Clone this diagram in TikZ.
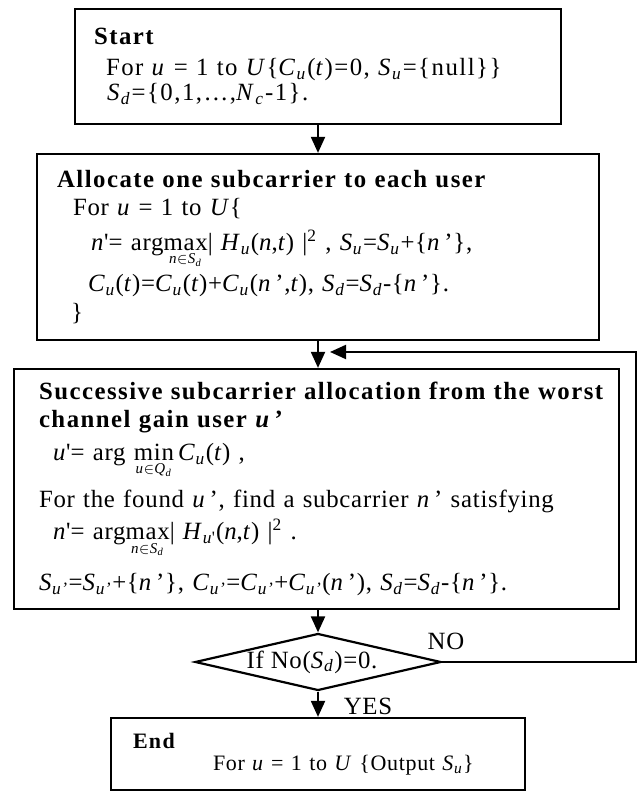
\documentclass[tikz,border=0pt]{standalone}
\usepackage{fontspec}
\setmainfont{Liberation Serif}[LetterSpace=3]
\newfontfamily\titlefont{Liberation Serif}[LetterSpace=6]
\usetikzlibrary{shapes.geometric,arrows.meta}

\newcommand{\boxhead}[1]{{\titlefont\bfseries #1}}
\newcommand{\uv}[1]{\textit{#1}}
\newcommand{\usub}[2]{\textit{#1}\textsubscript{\textit{#2}}}
\newcommand{\subfont}{\fontsize{7.5}{8}\selectfont}
\newcommand{\limop}[2]{\smash{$\mathop{\hbox{#1}}\limits_{\hbox{\subfont #2}}$}}

\tikzset{
  procbox/.style={draw,line width=1.1pt,align=left,inner ysep=0pt,
    font=\fontsize{12.4}{14}\selectfont},
  testbox/.style={draw,diamond,line width=1.1pt,aspect=4.3,inner sep=0pt,
    minimum width=123pt,minimum height=28.5pt,font=\fontsize{12.4}{14}\selectfont},
  flow/.style={line width=1pt,-{Triangle[width=7pt,length=8pt]}},
  tag/.style={font=\fontsize{12.4}{14}\selectfont}
}

\begin{document}
\begin{tikzpicture}[x=0.5pt,y=0.5pt]
\path[use as bounding box] (0,0) rectangle (642,801);
% steps
\node[procbox,minimum width=243pt,minimum height=57.5pt,inner xsep=9.5pt,text width=224pt,
  font=\fontsize{12.4}{12.5}\selectfont\addfontfeatures{LetterSpace=6}] (start) at (318,734.5) {%
\boxhead{Start}\\[3pt]
\mbox{\hspace*{6pt}For \uv{u} = 1 to \uv{U}\{\usub{C}{u}(\uv{t})=0, \usub{S}{u}=\{null\}\}}\\
\mbox{\hspace*{6.5pt}\usub{S}{d}=\{0,1,\ldots,\usub{N}{c}-1\}.}};
\node[procbox,minimum width=281pt,minimum height=93pt,inner xsep=10pt,text width=261pt]
  (alloc) at (318,554) {%
\mbox{\boxhead{Allocate one subcarrier to each user}}\\
\mbox{\hspace*{8pt}For \uv{u} = 1 to \uv{U}\{}\\[3.5pt]
\mbox{\hspace*{17pt}\uv{n}\textquotesingle= arg\limop{max}{\uv{n}$\in$\usub{S}{d}}| \usub{H}{u}(\uv{n},\uv{t}) |\textsuperscript{2} , \usub{S}{u}=\usub{S}{u}+\{\uv{n}\,’\},}\\[6.5pt]
\mbox{\hspace*{15.5pt}\usub{C}{u}(\uv{t})=\usub{C}{u}(\uv{t})+\usub{C}{u}(\uv{n}\,’,\uv{t}), \usub{S}{d}=\usub{S}{d}-\{\uv{n}\,’\}.}\\[0.5pt]
\mbox{\hspace*{7pt}\}}};
\node[procbox,minimum width=302.5pt,minimum height=120pt,inner xsep=12.5pt,text width=277.5pt]
  (succ) at (316.5,312) {%
\mbox{\boxhead{Successive subcarrier allocation from the worst}}\\
\mbox{\boxhead{channel gain user \textit{u}\,’}}\\[2.5pt]
\mbox{\hspace*{7pt}\uv{u}\textquotesingle= arg \limop{min}{\uv{u}$\in$\usub{Q}{d}}\,\usub{C}{u}(\uv{t}) ,}\\[9.5pt]
\mbox{For the found \uv{u}\,’, find a subcarrier \uv{n}\,’ satisfying}\\[2pt]
\mbox{\hspace*{7pt}\uv{n}\textquotesingle= arg\limop{max}{\uv{n}$\in$\usub{S}{d}}| \textit{H}\textsubscript{\textit{u}\textquotesingle}(\uv{n},\uv{t}) |\textsuperscript{2} .}\\[11.5pt]
\mbox{\usub{S}{u'}=\usub{S}{u'}+\{\uv{n}\,’\}, \usub{C}{u'}=\usub{C}{u'}+\usub{C}{u'}(\uv{n}\,’), \usub{S}{d}=\usub{S}{d}-\{\uv{n}\,’\}.}};
\node[testbox] (test) at (318,139) {If No(\usub{S}{d})=0.\hspace*{6pt}};
\node[procbox,minimum width=207pt,minimum height=36pt,inner xsep=11pt,text width=185pt,
  font=\fontsize{11}{11}\selectfont] (done) at (318,47) {%
\boxhead{End}\\
\mbox{\hspace*{40pt}For \uv{u} = 1 to \uv{U} \{Output \usub{S}{u}\}}};
% connectors
\coordinate (loop) at (636,449);
\coordinate (merge) at (330,449);
\draw[flow] (start.south) -- (alloc.north);
\draw[flow] (alloc.south) -- (alloc.south |- succ.north);
\draw[flow] (succ.south -| test.north) -- (test.north);
\draw[flow] (test.south) -- (done.north);
\draw[flow] (test.east) -| (loop) -- (merge);
\node[tag] (no) at (446,160) {NO};
\node[tag] (yes) at (368,95) {YES};
\end{tikzpicture}
\end{document}
